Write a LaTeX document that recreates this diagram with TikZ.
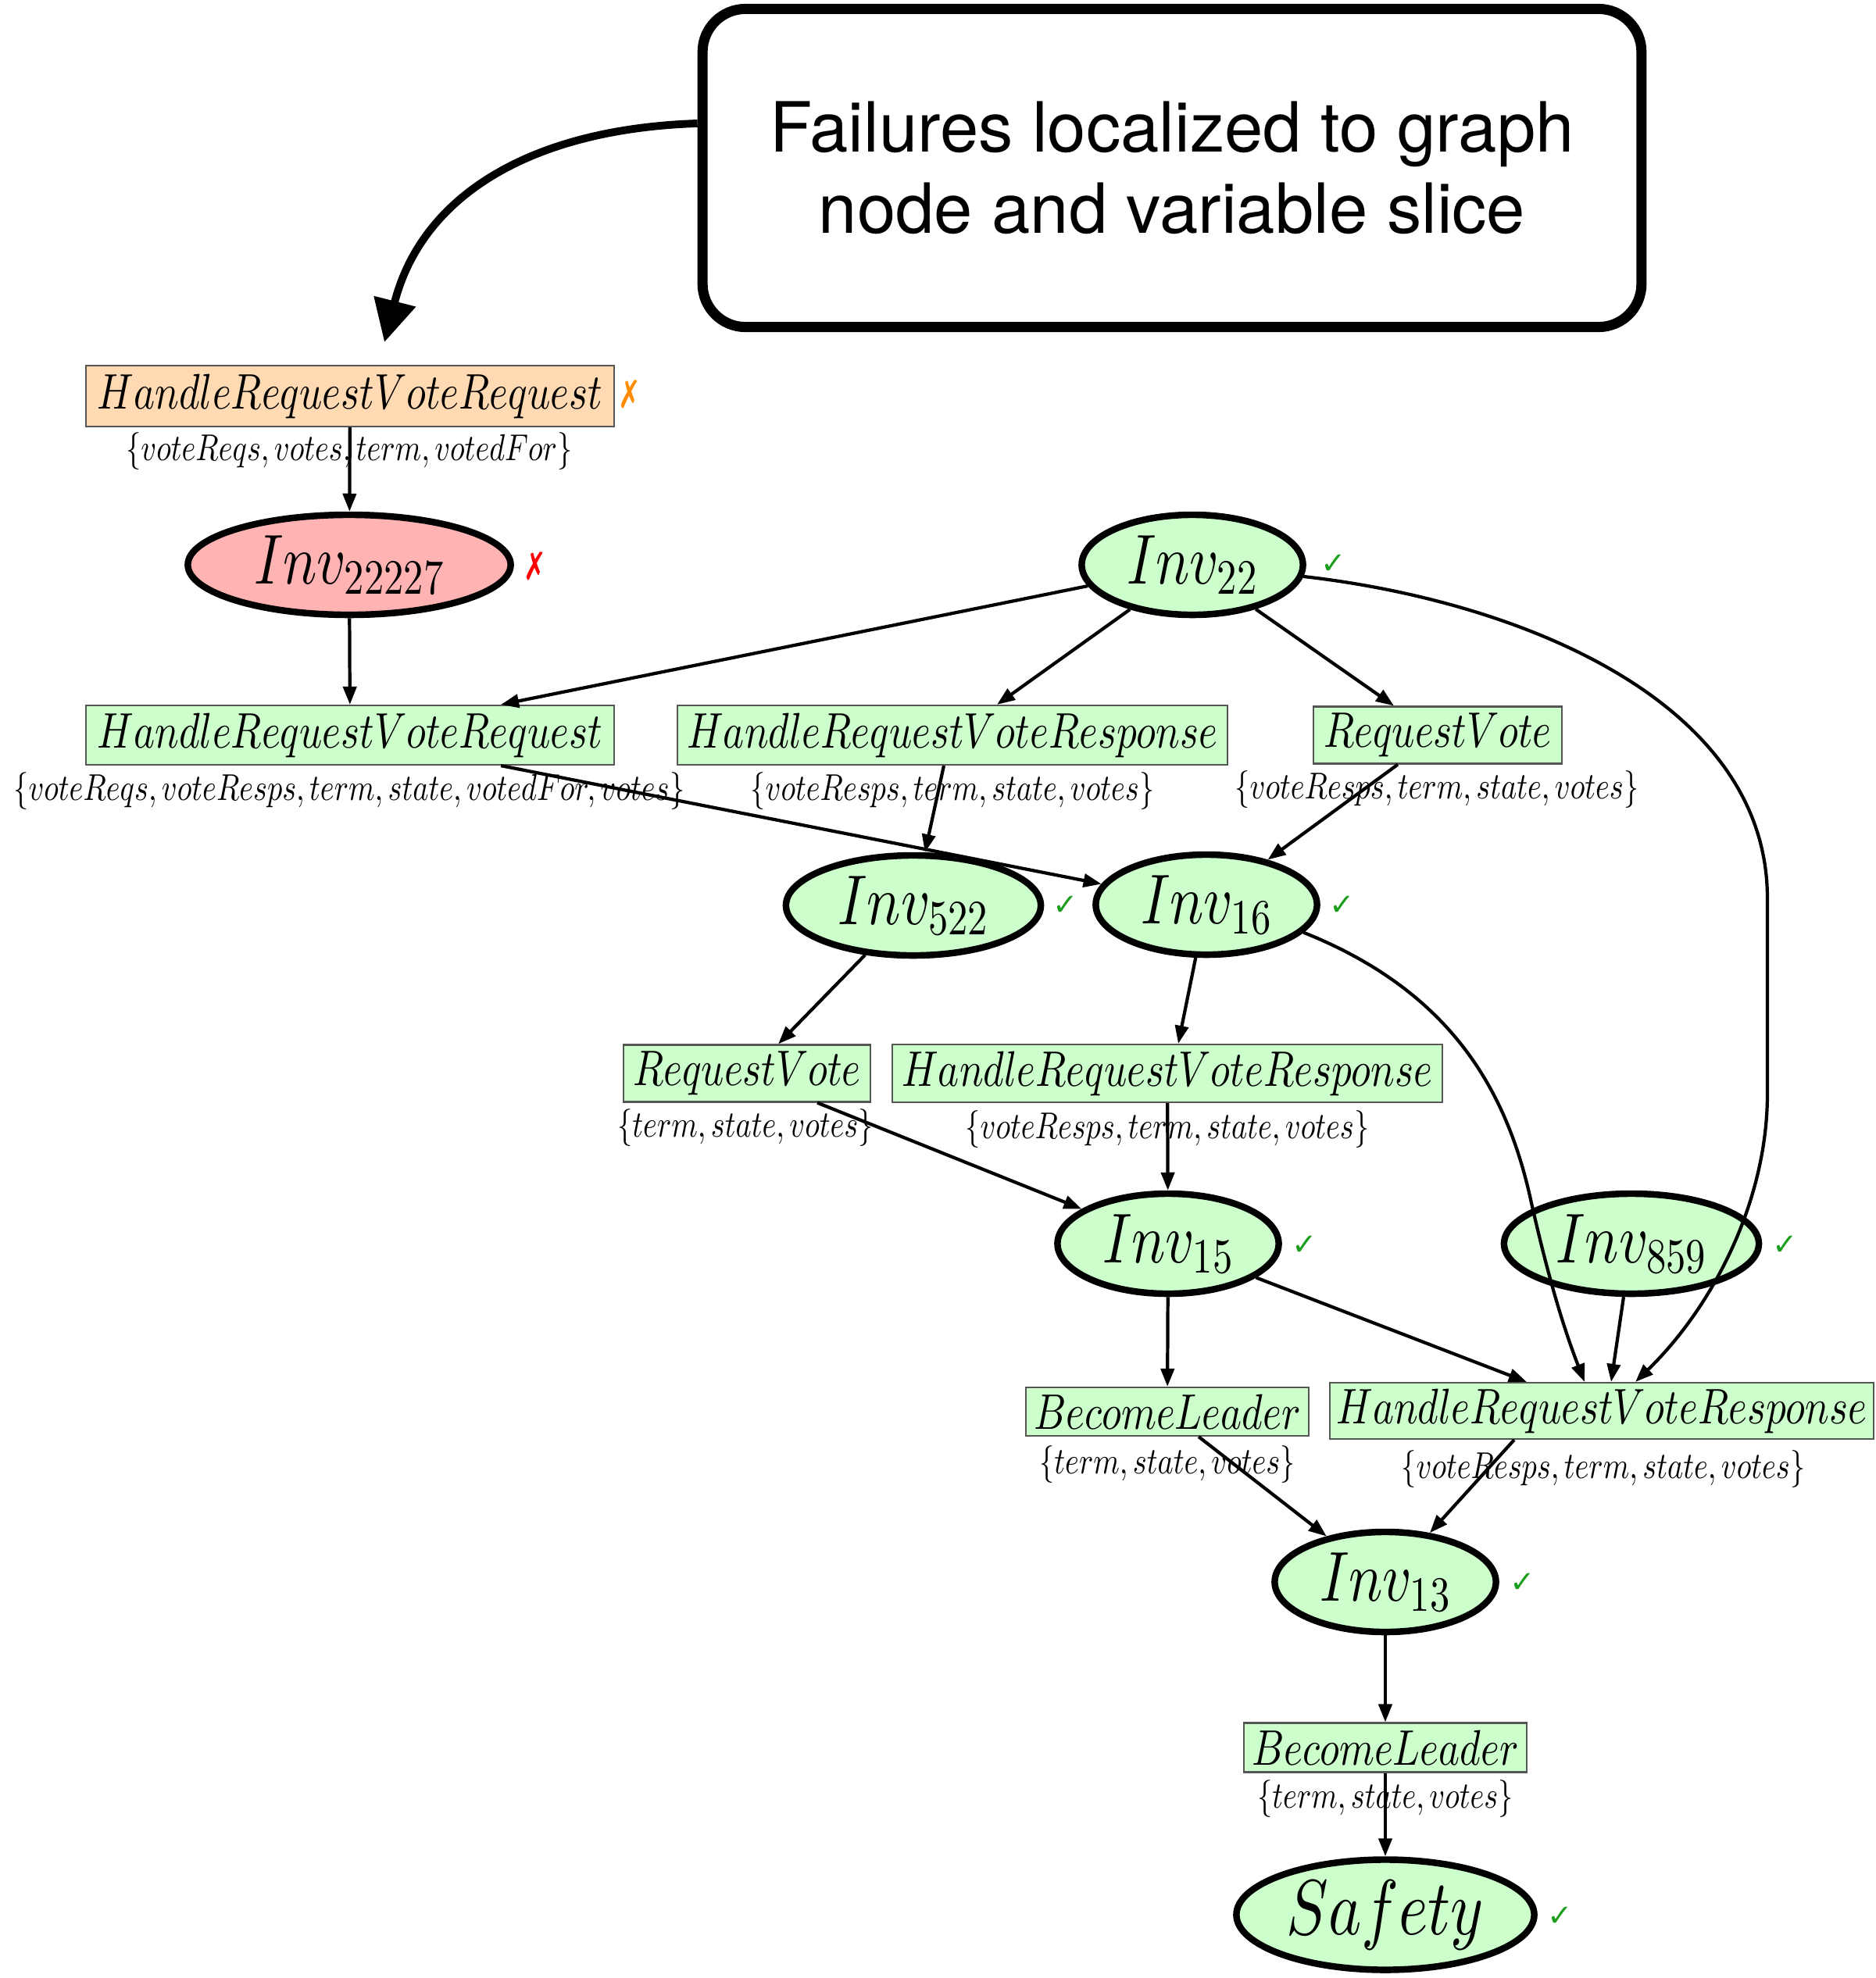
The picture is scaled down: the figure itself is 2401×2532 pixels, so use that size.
\documentclass[tikz,border=0pt]{standalone}
\usepackage{fontspec}
\usepackage{graphicx}
\newfontfamily\calloutfont{TeX Gyre Heros}
\newfontfamily\markfont{DejaVu Sans}
\usetikzlibrary{shapes.geometric,arrows.meta,calc}
% scalable math fonts at any size
\DeclareFontShape{OML}{cmm}{m}{it}{<->cmmi10}{}
\DeclareFontShape{OMS}{cmsy}{m}{n}{<->cmsy10}{}
\DeclareFontShape{OT1}{cmr}{m}{n}{<->cmr10}{}

\definecolor{okfill}{HTML}{CCFFCC}
\definecolor{badfill}{HTML}{FFB3B3}
\definecolor{warnfill}{HTML}{FFDAB3}
\definecolor{boxline}{HTML}{555555}
\definecolor{okmark}{HTML}{1E9E1E}
\definecolor{warnmark}{HTML}{FF8C00}
\definecolor{badmark}{HTML}{FF0000}

% condensed math italic for graph labels
\newcommand\gm[1]{\scalebox{0.8}[1]{$#1$}}
\newcommand\failx{\scalebox{0.7}[1]{✗}}

\begin{document}
\begin{tikzpicture}[x=0.01cm,y=-0.01cm,
  action/.style={rectangle, draw=boxline, line width=0.6pt, fill=okfill,
    inner sep=0pt, font=\fontsize{18.2}{21}\selectfont},
  inv/.style={ellipse, draw=black, line width=2.4pt, fill=okfill, inner sep=0pt,
    minimum width=2.83cm, minimum height=1.28cm, font=\fontsize{25.7}{29}\selectfont},
  wide/.style={minimum width=3.26cm},
  vars/.style={inner sep=0pt, font=\fontsize{13.6}{15}\selectfont},
  okmk/.style={text=okmark, inner sep=0pt, font=\markfont\fontsize{11}{12}\selectfont},
  failmk/.style={inner sep=0pt, font=\markfont\fontsize{14}{15}\selectfont},
  dep/.style={line width=1.2pt, -{Triangle[length=0.23cm,width=0.17cm]}},
]
\useasboundingbox (0,0) rectangle (2401,2532);
\fill[white] (0,0) rectangle (2401,2532);

% callout
\node[draw, line width=3.7pt, rounded corners=0.55cm, minimum width=12.01cm,
  minimum height=4.07cm, align=center,
  font=\calloutfont\fontsize{25.2}{29.6}\selectfont] (note) at (1500,215)
  {Failures localized to graph\\node and variable slice};
\coordinate (pointer) at (492,438);

% top failing action and invariant
\node[action, fill=warnfill, minimum width=6.76cm, minimum height=0.78cm] (hrvqTop) at (448,507) {\gm{HandleRequestVoteRequest}};
\node[vars] (hrvqTopV) at (447,578) {\gm{\{voteReqs, votes, term, votedFor\}}};
\node[failmk, text=warnmark] (hrvqTopM) at (806,505) {\failx};

\node[inv, fill=badfill, minimum width=4.13cm] (inv22227) at (447,723) {\gm{Inv_{22227}}};
\node[failmk, text=badmark] (inv22227M) at (685,725) {\failx};

% second row
\node[action, minimum width=6.76cm, minimum height=0.76cm] (hrvq) at (448,941) {\gm{HandleRequestVoteRequest}};
\node[vars] (hrvqV) at (447,1013) {\gm{\{voteReqs, voteResps, term, state, votedFor, votes\}}};

\node[inv] (inv22) at (1526,723) {\gm{Inv_{22}}};
\node[okmk] (inv22M) at (1707,722) {✓};

\node[action, minimum width=7.04cm, minimum height=0.76cm] (hrvsA) at (1219,941) {\gm{HandleRequestVoteResponse}};
\node[vars] (hrvsAV) at (1219,1013) {\gm{\{voteResps, term, state, votes\}}};

\node[action, minimum width=3.18cm, minimum height=0.73cm] (rvA) at (1840,941) {\gm{RequestVote}};
\node[vars] (rvAV) at (1839,1011) {\gm{\{voteResps, term, state, votes\}}};

% third row
\node[inv, wide] (inv522) at (1169,1159) {\gm{Inv_{522}}};
\node[okmk] (inv522M) at (1364,1159) {✓};
\node[inv] (inv16) at (1544,1158) {\gm{Inv_{16}}};
\node[okmk] (inv16M) at (1718,1159) {✓};

\node[action, minimum width=3.16cm, minimum height=0.73cm] (rvB) at (956,1374) {\gm{RequestVote}};
\node[vars] (rvBV) at (954,1444) {\gm{\{term, state, votes\}}};
\node[action, minimum width=7.04cm, minimum height=0.74cm] (hrvsB) at (1494,1374) {\gm{HandleRequestVoteResponse}};
\node[vars] (hrvsBV) at (1494,1446) {\gm{\{voteResps, term, state, votes\}}};

% fourth row
\node[inv] (inv15) at (1495,1592) {\gm{Inv_{15}}};
\node[okmk] (inv15M) at (1670,1594) {✓};
\node[inv, wide] (inv859) at (2088,1592) {\gm{Inv_{859}}};
\node[okmk] (inv859M) at (2285,1594) {✓};

\node[action, minimum width=3.61cm, minimum height=0.62cm] (blA) at (1494,1807) {\gm{BecomeLeader}};
\node[vars] (blAV) at (1494,1875) {\gm{\{term, state, votes\}}};
\node[action, minimum width=6.96cm, minimum height=0.72cm] (hrvsC) at (2050,1806) {\gm{HandleRequestVoteResponse}};
\node[vars] (hrvsCV) at (2052,1881) {\gm{\{voteResps, term, state, votes\}}};

% bottom
\node[inv] (inv13) at (1773,2025) {\gm{Inv_{13}}};
\node[okmk] (inv13M) at (1949,2026) {✓};
\node[action, minimum width=3.62cm, minimum height=0.63cm] (blB) at (1773,2237) {\gm{BecomeLeader}};
\node[vars] (blBV) at (1773,2303) {\gm{\{term, state, votes\}}};
\node[inv, minimum width=3.81cm, minimum height=1.41cm, font=\fontsize{28.5}{31}\selectfont] (safety) at (1773,2451) {\gm{Safety}};
\node[okmk] (safetyM) at (1997,2453) {✓};

% callout pointer
\draw[line width=2.8pt, -{Triangle[length=0.54cm,width=0.53cm]}]
  ([yshift=0.57cm]note.west) .. controls (680,165) and (540,250) .. (pointer);

% dependency edges
\draw[dep] (hrvqTop) -- (inv22227);
\draw[dep] (inv22227) -- (hrvq);
\draw[dep] (inv22) -- ([xshift=1.93cm]hrvq.north);
\draw[dep] (inv22) -- ([xshift=0.57cm]hrvsA.north);
\draw[dep] (inv22) -- ([xshift=-0.56cm]rvA.north);
\draw[dep] (inv22.-6) .. controls (1950,770) and (2262,900) .. (2262,1150)
  -- (2262,1400) .. controls (2262,1540) and (2190,1675) .. ([xshift=0.43cm]hrvsC.north);
\draw[dep] ([xshift=1.93cm]hrvq.south) -- (inv16);
\draw[dep] ([xshift=-0.11cm]hrvsA.south) -- (inv522);
\draw[dep] ([xshift=-0.51cm]rvA.south) -- (inv16);
\draw[dep] (inv522) -- ([xshift=0.40cm]rvB.north);
\draw[dep] (inv16) -- ([xshift=0.14cm]hrvsB.north);
\draw[dep] (inv16.-16) .. controls (1860,1270) and (1930,1400) .. (1960,1540)
  .. controls (1985,1650) and (2005,1710) .. ([xshift=-0.22cm]hrvsC.north);
\draw[dep] ([xshift=0.90cm]rvB.south) -- (inv15);
\draw[dep] (hrvsB) -- (inv15);
\draw[dep] (inv15) -- (blA);
\draw[dep] (inv15) -- ([xshift=-0.96cm]hrvsC.north);
\draw[dep] (inv859) -- ([xshift=0.12cm]hrvsC.north);
\draw[dep] ([xshift=0.40cm]blA.south) -- (inv13);
\draw[dep] ([xshift=-1.12cm]hrvsC.south) -- (inv13);
\draw[dep] (inv13) -- (blB);
\draw[dep] (blB) -- (safety);
\end{tikzpicture}
\end{document}
